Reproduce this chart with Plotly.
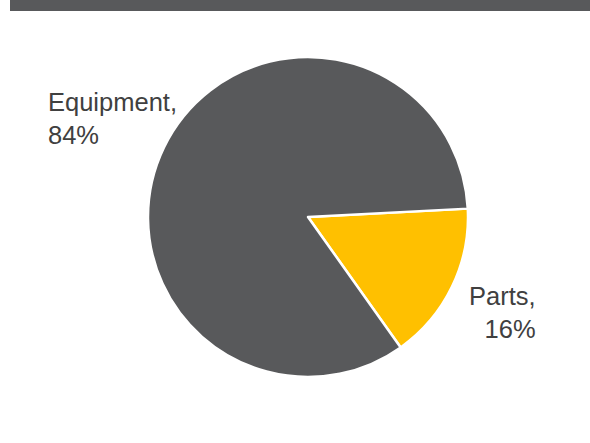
import plotly.graph_objects as go

categories = ["Parts", "Equipment"]
shares = [16, 84]
colors = ["#FFC000", "#58595B"]
label_text = ["Parts,<br>16%", "Equipment,<br>84%"]
title_text = "Sales by Product"

W, H = 590, 443
FONT = "Liberation Sans, Arial"

fig = go.Figure()
fig.add_trace(go.Pie(
    labels=categories,
    values=shares,
    sort=False,
    direction="clockwise",
    rotation=87,
    marker=dict(colors=colors, line=dict(color="white", width=2.5)),
    textinfo="none",
    hoverinfo="label+percent",
    showlegend=False,
    domain=dict(x=[148 / W, 468 / W], y=[(H - 377) / H, (H - 57) / H]),
))

# title bar (cropped at top)
fig.add_shape(type="rect", xref="paper", yref="paper",
              x0=10 / W, x1=1.0, y0=(H - 11) / H, y1=1.2,
              fillcolor="#58595B", line=dict(width=0), layer="below")
fig.add_annotation(text="<b>" + title_text + "</b>", xref="paper", yref="paper",
                   x=194 / W, y=(H - 1) / H, xanchor="left", yanchor="bottom",
                   showarrow=False, font=dict(size=18, color="white", family=FONT))

# data labels
fig.add_annotation(text=label_text[1], xref="paper", yref="paper",
                   x=46 / W, y=(H - 86) / H, xanchor="left", yanchor="top",
                   align="left", showarrow=False,
                   font=dict(size=25.5, color="#404040", family=FONT))
fig.add_annotation(text=label_text[0], xref="paper", yref="paper",
                   x=538 / W, y=(H - 280) / H, xanchor="right", yanchor="top",
                   align="right", showarrow=False,
                   font=dict(size=25.5, color="#404040", family=FONT))

fig.update_layout(width=W, height=H, margin=dict(l=0, r=0, t=0, b=0),
                  paper_bgcolor="white", plot_bgcolor="white")
fig.write_html("out.html")
